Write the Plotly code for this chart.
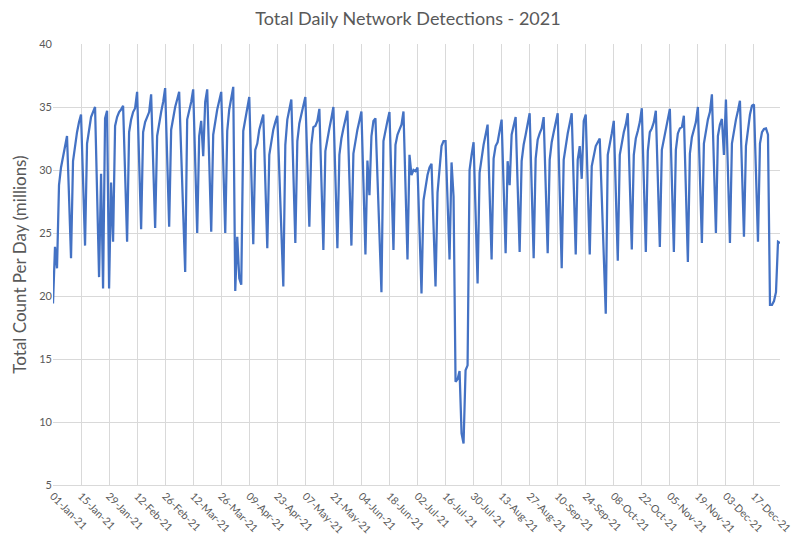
import pandas as pd
import plotly.graph_objects as go

# Daily totals (millions), 01-Jan-2021 .. 30-Dec-2021, read month by month
jan = [19.4, 23.9, 22.2, 28.8, 30.2, 31.0, 31.8, 32.7, 27.9, 23.0,
       30.7, 32.1, 33.0, 33.8, 34.4, 29.2, 24.0, 32.1, 33.3, 34.2,
       34.6, 35.0, 28.3, 21.5, 29.7, 20.6, 34.1, 34.7, 20.6, 29.0, 24.3]
feb = [33.5, 34.2, 34.6, 34.8, 35.1, 29.7, 24.3, 33.0, 34.0, 34.6,
       34.9, 36.2, 30.7, 25.3, 33.0, 33.8, 34.2, 34.6, 36.0, 30.7,
       25.4, 32.7, 33.8, 34.6, 35.4, 36.5, 31.0, 25.5]
mar = [33.2, 34.3, 35.0, 35.6, 36.2, 31.4, 26.7, 21.9, 34.0, 34.6,
       35.4, 36.4, 30.6, 25.0, 32.7, 33.9, 31.1, 35.4, 36.4, 30.7,
       25.1, 32.8, 33.9, 34.8, 35.5, 36.2, 30.6, 25.0, 33.1, 34.8, 35.7]
apr = [36.6, 20.4, 24.7, 21.4, 20.9, 33.1, 34.1, 35.0, 35.8, 29.9,
       24.1, 31.6, 32.1, 33.2, 33.9, 34.4, 29.1, 23.8, 31.2, 32.4,
       33.2, 33.8, 34.3, 29.8, 25.3, 20.75, 32.0, 34.0, 34.8, 35.6]
may = [29.9, 24.2, 32.3, 33.7, 34.4, 35.0, 35.8, 30.6, 25.5, 32.0,
       33.4, 33.5, 33.9, 34.85, 29.2, 23.65, 31.5, 32.5, 33.3, 34.1,
       35.0, 29.4, 23.8, 31.2, 32.5, 33.3, 34.0, 34.7, 29.3, 24.0, 31.3]
jun = [32.4, 33.2, 33.9, 34.65, 29.0, 23.3, 30.75, 28.0, 32.7, 33.9,
       34.1, 29.5, 24.8, 20.3, 32.3, 33.2, 33.9, 34.6, 29.1, 23.65,
       32.0, 32.8, 33.2, 33.6, 34.65, 28.8, 22.9, 31.2, 29.6, 30.0]
jul = [29.9, 30.2, 25.2, 20.2, 27.6, 28.7, 29.6, 30.2, 30.5, 25.6,
       20.75, 28.2, 30.3, 31.9, 32.3, 32.3, 27.6, 22.9, 30.6, 27.9,
       13.2, 13.4, 14.05, 9.1, 8.3, 14.1, 14.5, 30.0, 31.2, 32.2, 26.6]
aug = [21.0, 29.8, 31.1, 32.0, 32.8, 33.6, 28.2, 22.9, 30.9, 31.9,
       32.2, 33.0, 34.0, 28.7, 23.4, 30.7, 28.8, 32.8, 33.5, 34.2,
       28.8, 23.5, 30.7, 32.0, 32.8, 33.6, 34.5, 28.7, 23.0, 30.9, 32.4]
sep = [32.9, 33.3, 34.2, 28.8, 23.4, 30.8, 32.2, 33.0, 33.7, 34.5,
       28.3, 22.2, 30.8, 32.0, 32.9, 33.7, 34.5, 28.9, 23.3, 30.8,
       31.9, 29.3, 33.9, 34.4, 28.9, 23.3, 30.3, 31.2, 31.9, 32.2]
oct_ = [32.5, 27.9, 23.2, 18.6, 31.2, 32.0, 32.9, 33.9, 28.3, 22.8,
        31.2, 32.3, 33.0, 33.6, 34.5, 29.0, 23.7, 31.2, 32.5, 33.1,
        33.8, 34.9, 29.2, 23.5, 31.5, 33.0, 33.3, 33.8, 34.7, 29.3, 23.9]
nov = [31.6, 32.4, 33.2, 34.0, 34.85, 29.2, 23.5, 31.6, 32.9, 33.3,
       33.4, 34.3, 28.5, 22.7, 31.3, 32.6, 33.2, 33.8, 35.0, 29.6,
       24.2, 32.1, 33.2, 34.0, 34.6, 36.0, 30.5, 25.0, 32.7, 33.6]
dec = [34.05, 31.2, 35.6, 29.9, 24.2, 32.1, 33.2, 34.0, 34.7, 35.5,
       30.1, 24.7, 31.9, 33.4, 34.4, 35.1, 35.2, 29.8, 24.3, 32.1,
       33.0, 33.25, 33.3, 32.8, 19.3, 19.3, 19.6, 20.3, 24.3, 24.2]

counts = jan + feb + mar + apr + may + jun + jul + aug + sep + oct_ + nov + dec
dates = pd.date_range("2021-01-01", periods=len(counts), freq="D")

tick_dates = pd.date_range("2021-01-01", "2021-12-17", freq="14D")
tick_text = [d.strftime("%d-%b-%y") for d in tick_dates]
y_ticks = [5, 10, 15, 20, 25, 30, 35, 40]

title_text = "Total Daily Network Detections - 2021"
y_title = "Total Count Per Day (millions)"

FONT = "Lato, Open Sans, sans-serif"
TXT = "#595959"
GRID = "#d9d9d9"

fig = go.Figure()
fig.add_trace(go.Scatter(
    x=dates, y=counts, mode="lines",
    line=dict(color="#4472C4", width=2.25),
    hoverinfo="x+y", showlegend=False,
))

fig.update_layout(
    width=800, height=538,
    margin=dict(l=53, r=20, t=44, b=53),
    paper_bgcolor="white", plot_bgcolor="white",
    font=dict(family=FONT, color=TXT),
    title=dict(text=title_text, x=0.51, xanchor="center", y=0.965, yanchor="middle",
               font=dict(size=18, color=TXT, family=FONT)),
)
fig.update_xaxes(
    type="date",
    range=[dates[0], dates[-1]],
    tickvals=list(tick_dates), ticktext=tick_text,
    tickangle=45, tickfont=dict(size=10.5, color=TXT),
    showgrid=True, gridcolor=GRID, gridwidth=1,
    showline=True, linecolor=GRID, linewidth=1,
    ticks="", zeroline=False, automargin=False,
)
fig.update_yaxes(
    range=[5, 40], tickvals=y_ticks,
    tickfont=dict(size=11, color=TXT),
    showgrid=True, gridcolor=GRID, gridwidth=1,
    showline=False, zeroline=False, ticks="", automargin=False,
    title=dict(text=y_title, font=dict(size=17, color=TXT), standoff=8),
)

fig.write_html("out.html")
